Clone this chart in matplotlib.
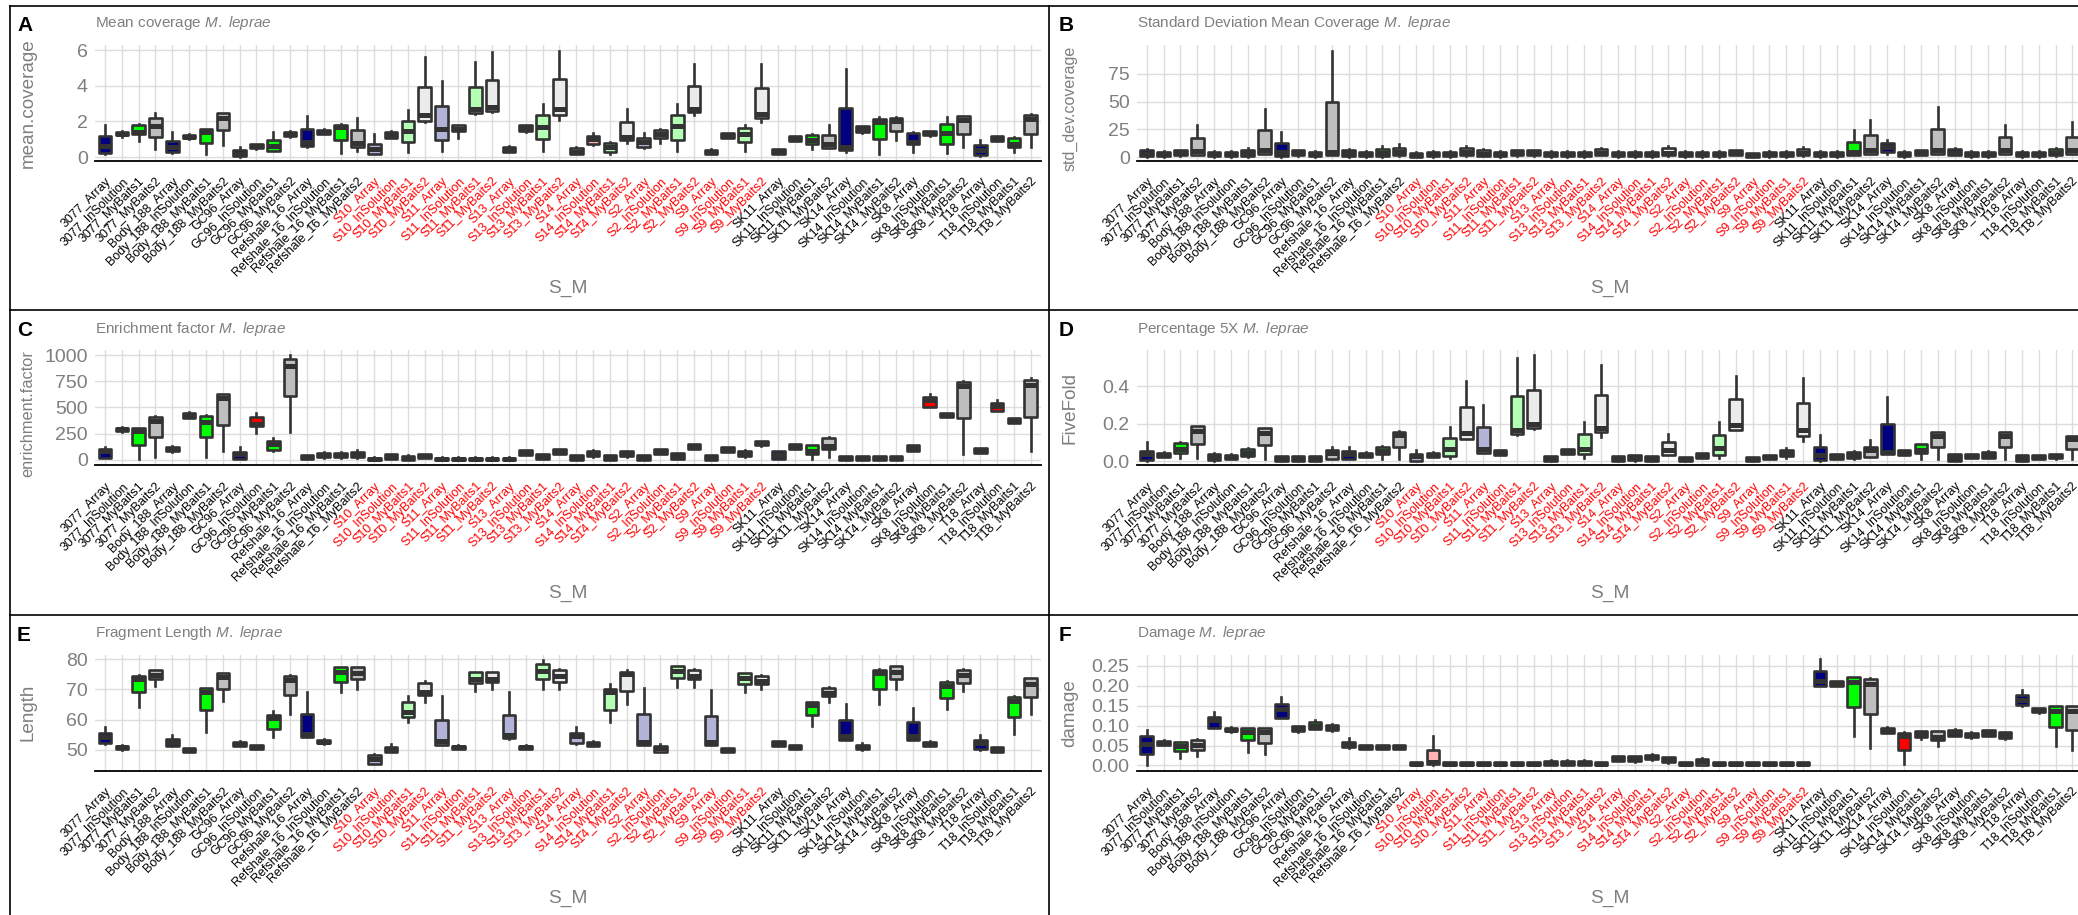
import matplotlib
matplotlib.use("Agg")
import matplotlib.pyplot as plt
import matplotlib.colors as mcolors
from matplotlib.lines import Line2D

plt.rcParams["font.family"] = "Liberation Sans"
plt.rcParams["mathtext.fontset"] = "custom"
plt.rcParams["mathtext.rm"] = "Liberation Sans"
plt.rcParams["mathtext.it"] = "Liberation Sans:italic"

samples = ["3077", "Body_188", "GC96", "Refshale_16", "S10", "S11", "S13",
           "S14", "S2", "S9", "SK11", "SK14", "SK8", "T18"]
red_samples = ["S10", "S11", "S13", "S14", "S2", "S9"]
methods = ["Array", "InSolution", "MyBaits1", "MyBaits2"]
categories = [s + "_" + m for s in samples for m in methods]

# (whisker low, q1, median, q3, whisker high) per category
mean_coverage = [
    (0.15, 0.24, 0.62, 1.2, 1.78), (1.15, 1.22, 1.32, 1.42, 1.48), (0.9, 1.28, 1.42, 1.78, 1.85), (0.45, 1.12, 1.72, 2.2, 2.5),
    (0.25, 0.3, 0.55, 0.92, 1.4), (1.0, 1.05, 1.12, 1.22, 1.27), (0.2, 0.8, 1.42, 1.55, 1.6), (0.7, 1.5, 2.2, 2.45, 2.5),
    (0.0, 0.05, 0.2, 0.38, 0.55), (0.47, 0.5, 0.6, 0.72, 0.76), (0.35, 0.37, 0.65, 0.95, 1.42), (1.15, 1.2, 1.28, 1.4, 1.45),
    (0.55, 0.6, 0.85, 1.55, 2.33), (1.27, 1.3, 1.4, 1.5, 1.55), (0.25, 0.95, 1.68, 1.8, 1.85), (0.33, 0.57, 0.82, 1.52, 2.2),
    (0.15, 0.17, 0.45, 0.75, 1.3), (1.05, 1.1, 1.25, 1.4, 1.45), (0.28, 0.84, 1.44, 2.05, 2.66), (1.95, 2.02, 2.35, 3.95, 5.6),
    (0.34, 0.94, 1.55, 2.85, 4.28), (1.1, 1.45, 1.6, 1.78, 1.8), (2.4, 2.45, 2.7, 3.95, 5.35), (2.55, 2.6, 2.8, 4.3, 5.9),
    (0.27, 0.3, 0.45, 0.58, 0.6), (1.4, 1.46, 1.62, 1.78, 1.8), (0.34, 1.03, 1.69, 2.35, 2.95), (2.1, 2.35, 2.72, 4.35, 5.97),
    (0.15, 0.17, 0.3, 0.5, 0.55), (0.7, 0.72, 1.0, 1.18, 1.37), (0.18, 0.3, 0.55, 0.82, 0.85), (0.79, 0.94, 1.13, 1.97, 2.72),
    (0.5, 0.55, 0.85, 1.08, 1.37), (0.79, 1.09, 1.3, 1.54, 1.56), (0.34, 0.94, 1.73, 2.35, 2.95), (2.38, 2.53, 2.72, 4.0, 5.2),
    (0.15, 0.17, 0.28, 0.41, 0.43), (1.07, 1.09, 1.2, 1.35, 1.37), (0.34, 0.84, 1.31, 1.65, 1.78), (1.97, 2.21, 2.44, 3.85, 5.2),
    (0.19, 0.2, 0.33, 0.47, 0.48), (0.9, 0.92, 1.03, 1.16, 1.18), (0.47, 0.71, 0.98, 1.26, 1.3), (0.51, 0.53, 0.75, 1.22, 1.78),
    (0.28, 0.38, 0.56, 2.78, 4.91), (1.35, 1.41, 1.55, 1.73, 1.75), (0.18, 1.0, 1.95, 2.15, 2.25), (0.95, 1.45, 2.0, 2.2, 2.25),
    (0.28, 0.71, 0.86, 1.37, 1.4), (1.2, 1.22, 1.33, 1.44, 1.46), (0.22, 0.71, 1.35, 1.84, 2.25), (0.56, 1.31, 2.1, 2.29, 2.32),
    (0.09, 0.1, 0.38, 0.66, 0.94), (0.9, 0.92, 1.03, 1.16, 1.18), (0.28, 0.56, 0.71, 1.09, 1.12), (0.56, 1.31, 2.16, 2.35, 2.4),
]

std_dev_coverage = [
    (0.5, 1, 3, 6, 7), (0.5, 1, 2.5, 5, 5.5), (1, 1.5, 3.5, 6, 6.5), (1.5, 2, 5.5, 17.5, 29),
    (0.5, 0.8, 2.5, 5, 5.5), (0.5, 0.8, 2.5, 5, 5.5), (0.5, 1, 3.5, 6.5, 8), (2.5, 3, 6.5, 24, 43),
    (0.5, 0.8, 5, 13, 22.5), (1, 1.5, 3.5, 6, 6.5), (0.5, 0.8, 2.5, 5, 5.5), (1.5, 2, 5, 50, 96),
    (0.5, 1, 3.5, 6.5, 7.5), (0.5, 0.8, 2.5, 5, 5.5), (0.5, 1, 4, 7.5, 10), (1, 1.5, 4.5, 8, 12),
    (0, 0.2, 1.5, 4, 4.5), (0.5, 0.8, 2.5, 5, 5.5), (0.5, 0.8, 2.5, 5, 5.5), (1, 1.5, 4.5, 8.5, 10),
    (1, 1.2, 3, 6.5, 7.5), (0.5, 0.8, 2.5, 5, 5.5), (1, 1.5, 3.5, 6, 6.5), (1, 1.5, 3.5, 6, 6.5),
    (0.5, 0.8, 2.5, 5, 5.5), (0.5, 0.8, 2.5, 5, 5.5), (0.5, 0.8, 2.5, 5, 5.5), (1.5, 2, 4, 7, 8),
    (0.5, 0.8, 2.5, 5, 5.5), (0.5, 0.8, 2.5, 5, 5.5), (0.5, 0.8, 2.5, 5, 5.5), (1, 1.5, 4, 8, 10),
    (0.5, 0.8, 2.5, 5, 5.5), (0.5, 0.8, 2.5, 5, 5.5), (0.5, 0.8, 2.5, 5, 5.5), (1.5, 2, 4, 6, 6.5),
    (0, 0.2, 1.5, 3.5, 4), (0.5, 0.8, 2.5, 5, 5.5), (0.5, 0.8, 2.5, 5, 5.5), (1, 2, 4, 7, 9),
    (0.5, 0.8, 2.5, 5, 5.5), (0.5, 0.8, 2.5, 5, 5.5), (1.5, 2, 5, 14, 24.5), (2.5, 3, 6, 20, 33.5),
    (3, 5, 9, 12.5, 15), (0.5, 0.8, 2.5, 5, 5.5), (1.5, 2, 3.5, 6, 6.5), (2.5, 3, 6, 25.5, 45.5),
    (1.5, 2, 4, 7, 8), (0.5, 0.8, 2.5, 5, 5.5), (0.5, 0.8, 2.5, 5, 5.5), (2.5, 3, 6, 18, 29),
    (0.5, 0.8, 2.5, 5, 5.5), (0.5, 0.8, 2.5, 5, 5.5), (1, 1.5, 4, 7, 8.5), (2.5, 3, 6, 18.5, 32),
]

enrichment_factor = [
    (15, 20, 80, 100, 127), (268, 272, 290, 308, 312), (5, 140, 275, 300, 305), (30, 215, 375, 410, 415),
    (78, 82, 105, 125, 128), (395, 400, 425, 448, 452), (25, 215, 365, 420, 425), (80, 335, 590, 625, 630),
    (5, 10, 57, 78, 120), (255, 320, 340, 410, 445), (86, 97, 150, 175, 213), (270, 605, 895, 965, 1000),
    (5, 8, 30, 45, 50), (22, 25, 50, 68, 72), (22, 25, 50, 68, 72), (20, 28, 55, 78, 90),
    (0, 2, 10, 22, 25), (8, 10, 35, 55, 58), (0, 2, 20, 40, 42), (14, 16, 40, 55, 58),
    (0, 2, 10, 22, 25), (0, 2, 10, 22, 25), (0, 2, 10, 22, 25), (0, 2, 10, 22, 25),
    (0, 2, 10, 22, 25), (46, 48, 75, 95, 97), (4, 6, 30, 55, 57), (55, 57, 85, 106, 108),
    (0, 2, 25, 46, 48), (30, 32, 60, 84, 95), (0, 2, 25, 46, 48), (30, 32, 60, 84, 86),
    (0, 2, 25, 46, 48), (55, 57, 85, 106, 108), (4, 6, 40, 68, 70), (100, 102, 130, 150, 152),
    (0, 2, 25, 46, 48), (77, 79, 105, 125, 127), (25, 32, 55, 84, 95), (135, 137, 160, 182, 184),
    (4, 6, 45, 84, 86), (100, 102, 130, 150, 152), (5, 55, 80, 140, 145), (25, 100, 135, 210, 215),
    (0, 2, 18, 35, 38), (0, 2, 18, 35, 38), (0, 2, 18, 35, 38), (0, 2, 18, 35, 38),
    (87, 89, 115, 141, 143), (500, 505, 570, 600, 630), (404, 406, 430, 449, 451), (55, 400, 700, 745, 750),
    (62, 64, 90, 115, 117), (465, 470, 510, 545, 570), (347, 349, 375, 395, 397), (80, 405, 715, 760, 780),
]

five_fold = [
    (0.003, 0.005, 0.038, 0.056, 0.1), (0.02, 0.022, 0.033, 0.045, 0.047), (0.015, 0.046, 0.064, 0.095, 0.1), (0.015, 0.092, 0.163, 0.188, 0.19),
    (0.003, 0.005, 0.02, 0.039, 0.046), (0.011, 0.012, 0.023, 0.034, 0.036), (0.021, 0.028, 0.045, 0.064, 0.069), (0.012, 0.087, 0.152, 0.175, 0.177),
    (0.0, 0.002, 0.012, 0.025, 0.026), (0.0, 0.002, 0.012, 0.025, 0.026), (0.0, 0.002, 0.012, 0.025, 0.026), (0.011, 0.012, 0.042, 0.06, 0.078),
    (0.011, 0.012, 0.039, 0.055, 0.073), (0.02, 0.022, 0.033, 0.045, 0.047), (0.012, 0.039, 0.055, 0.078, 0.08), (0.012, 0.073, 0.14, 0.158, 0.16),
    (0.0, 0.002, 0.028, 0.039, 0.057), (0.02, 0.022, 0.033, 0.045, 0.047), (0.016, 0.028, 0.064, 0.126, 0.184), (0.118, 0.119, 0.152, 0.29, 0.428),
    (0.045, 0.046, 0.064, 0.18, 0.299), (0.033, 0.034, 0.047, 0.06, 0.061), (0.14, 0.143, 0.165, 0.35, 0.552), (0.172, 0.175, 0.198, 0.379, 0.565),
    (0.0, 0.002, 0.012, 0.025, 0.026), (0.036, 0.037, 0.05, 0.065, 0.066), (0.014, 0.039, 0.064, 0.143, 0.21), (0.131, 0.154, 0.179, 0.354, 0.515),
    (0.0, 0.002, 0.014, 0.028, 0.029), (0.003, 0.004, 0.02, 0.034, 0.035), (0.0, 0.002, 0.014, 0.028, 0.029), (0.033, 0.034, 0.06, 0.104, 0.145),
    (0.0, 0.001, 0.01, 0.021, 0.022), (0.015, 0.016, 0.03, 0.042, 0.043), (0.014, 0.034, 0.069, 0.14, 0.21), (0.165, 0.166, 0.193, 0.33, 0.453),
    (0.0, 0.001, 0.01, 0.021, 0.022), (0.01, 0.011, 0.022, 0.034, 0.035), (0.016, 0.025, 0.042, 0.06, 0.069), (0.11, 0.136, 0.166, 0.308, 0.446),
    (0.003, 0.005, 0.03, 0.078, 0.14), (0.01, 0.011, 0.025, 0.039, 0.04), (0.011, 0.016, 0.035, 0.051, 0.052), (0.02, 0.021, 0.06, 0.078, 0.113),
    (0.036, 0.037, 0.051, 0.198, 0.343), (0.033, 0.034, 0.047, 0.06, 0.061), (0.011, 0.046, 0.06, 0.092, 0.093), (0.011, 0.074, 0.135, 0.154, 0.155),
    (0.0, 0.002, 0.02, 0.039, 0.04), (0.015, 0.016, 0.028, 0.039, 0.04), (0.015, 0.016, 0.035, 0.051, 0.052), (0.011, 0.078, 0.135, 0.154, 0.155),
    (0.0, 0.002, 0.015, 0.03, 0.031), (0.01, 0.011, 0.022, 0.034, 0.035), (0.013, 0.014, 0.027, 0.039, 0.04), (0.011, 0.064, 0.117, 0.135, 0.136),
]

fragment_length = [
    (52, 52.2, 54.2, 55.5, 57.6), (50, 50.1, 50.8, 51.3, 51.4), (64, 69, 73.5, 74.5, 74.7), (71, 73.5, 74.7, 76.3, 76.5),
    (51.2, 51.3, 52.5, 53.6, 54.8), (49.2, 49.3, 50, 50.6, 50.7), (56, 63, 69, 70.3, 70.5), (66, 70.1, 74.2, 75.3, 75.5),
    (51.2, 51.3, 52, 52.7, 52.8), (50.1, 50.2, 50.9, 51.6, 51.7), (54.2, 57, 60.5, 61.5, 62.8), (62, 68, 73.1, 74.6, 74.8),
    (54.2, 54.3, 55.3, 62, 69), (52, 52.1, 52.7, 53.3, 53.4), (69, 72.6, 75.7, 77.3, 77.5), (70.1, 73.4, 75.3, 77.3, 77.5),
    (45.1, 45.2, 47, 48.3, 48.7), (49.2, 49.3, 50.2, 51, 51.8), (59.2, 61, 62.5, 65.7, 67.9), (65.9, 68.1, 69.2, 72, 72.8),
    (51.4, 51.5, 52.8, 59.8, 67.9), (50.1, 50.2, 50.8, 51.3, 51.4), (69.4, 72, 73.4, 75.7, 75.9), (70.1, 72.3, 73.4, 75.7, 75.9),
    (53.7, 53.8, 55, 61.4, 69), (50.1, 50.2, 50.8, 51.3, 51.4), (70.1, 73.4, 76, 78.4, 79.8), (70.1, 72.6, 74.6, 76.4, 76.6),
    (52, 52.1, 54.4, 55.6, 57.6), (51.1, 51.2, 52, 52.7, 52.8), (59.2, 63.3, 69, 70.1, 71.7), (65.3, 69.6, 75, 75.7, 76.4),
    (51.4, 51.5, 52.6, 61.7, 70.6), (49.2, 49.3, 50.4, 51.3, 51.8), (70.9, 73.9, 76.1, 77.6, 77.9), (70.9, 73.4, 74.6, 76.4, 76.6),
    (51.4, 51.5, 52.6, 61.1, 69.8), (49.2, 49.3, 50, 50.6, 50.7), (69.2, 71.8, 73.9, 75.3, 75.5), (70.1, 71.8, 72.8, 74.6, 74.8),
    (51.2, 51.3, 52, 52.8, 52.9), (50.1, 50.2, 50.9, 51.6, 51.7), (57.9, 61.4, 64.8, 65.7, 65.9), (65.9, 67.9, 68.7, 70.6, 70.8),
    (53.1, 53.2, 54.5, 59.8, 65), (50, 50.1, 50.8, 51.6, 52.2), (65.3, 70.1, 75.3, 76.4, 76.6), (70.1, 73.4, 75.9, 77.6, 77.8),
    (53.1, 53.2, 54.6, 59.2, 63.7), (51.2, 51.3, 52, 52.7, 52.8), (63.4, 67.2, 71.2, 72.6, 72.8), (69.4, 72, 74.8, 76.4, 76.6),
    (50, 50.1, 52.3, 53.3, 54.8), (49.2, 49.3, 50, 50.8, 50.9), (55.3, 60.9, 66.1, 67.6, 67.8), (62, 67.6, 71.7, 73.7, 73.9),
]

damage = [
    (0.002, 0.03, 0.055, 0.075, 0.09), (0.051, 0.052, 0.057, 0.062, 0.063), (0.019, 0.036, 0.05, 0.058, 0.06), (0.023, 0.038, 0.052, 0.063, 0.067),
    (0.093, 0.094, 0.113, 0.122, 0.134), (0.085, 0.086, 0.09, 0.095, 0.096), (0.034, 0.063, 0.084, 0.094, 0.095), (0.029, 0.057, 0.084, 0.094, 0.095),
    (0.119, 0.12, 0.141, 0.153, 0.172), (0.085, 0.086, 0.092, 0.098, 0.099), (0.091, 0.092, 0.1, 0.108, 0.115), (0.087, 0.088, 0.095, 0.102, 0.103),
    (0.045, 0.046, 0.053, 0.06, 0.068), (0.041, 0.042, 0.047, 0.051, 0.052), (0.041, 0.042, 0.047, 0.051, 0.052), (0.041, 0.042, 0.047, 0.051, 0.052),
    (0.0, 0.001, 0.004, 0.008, 0.009), (0.002, 0.003, 0.008, 0.04, 0.074), (0.0, 0.001, 0.004, 0.008, 0.009), (0.0, 0.001, 0.004, 0.008, 0.009),
    (0.0, 0.001, 0.004, 0.008, 0.009), (0.0, 0.001, 0.004, 0.008, 0.009), (0.0, 0.001, 0.004, 0.008, 0.009), (0.0, 0.001, 0.004, 0.008, 0.009),
    (0.001, 0.002, 0.007, 0.012, 0.013), (0.001, 0.002, 0.007, 0.012, 0.013), (0.001, 0.002, 0.007, 0.012, 0.013), (0.0, 0.001, 0.004, 0.008, 0.009),
    (0.01, 0.011, 0.018, 0.023, 0.024), (0.008, 0.011, 0.018, 0.023, 0.024), (0.014, 0.015, 0.021, 0.027, 0.028), (0.007, 0.008, 0.015, 0.021, 0.022),
    (0.0, 0.001, 0.004, 0.008, 0.009), (0.001, 0.002, 0.01, 0.015, 0.018), (0.0, 0.001, 0.004, 0.008, 0.009), (0.0, 0.001, 0.004, 0.008, 0.009),
    (0.0, 0.001, 0.004, 0.008, 0.009), (0.0, 0.001, 0.004, 0.008, 0.009), (0.0, 0.001, 0.004, 0.008, 0.009), (0.0, 0.001, 0.004, 0.008, 0.009),
    (0.199, 0.2, 0.212, 0.236, 0.267), (0.199, 0.2, 0.205, 0.211, 0.212), (0.075, 0.147, 0.21, 0.222, 0.223), (0.044, 0.13, 0.205, 0.218, 0.219),
    (0.081, 0.082, 0.088, 0.095, 0.096), (0.004, 0.038, 0.074, 0.082, 0.083), (0.066, 0.071, 0.078, 0.086, 0.087), (0.049, 0.063, 0.071, 0.086, 0.087),
    (0.074, 0.075, 0.083, 0.09, 0.091), (0.07, 0.071, 0.077, 0.082, 0.083), (0.074, 0.075, 0.082, 0.088, 0.089), (0.066, 0.069, 0.077, 0.084, 0.085),
    (0.15, 0.151, 0.165, 0.176, 0.189), (0.132, 0.133, 0.138, 0.143, 0.144), (0.05, 0.096, 0.136, 0.148, 0.149), (0.038, 0.09, 0.136, 0.148, 0.149),
]

method_fill = {"Array": "#000080", "InSolution": "#FF0000", "MyBaits1": "#00FF00", "MyBaits2": "#BEBEBE"}


def light(c, a=0.3):
    r, g, b = mcolors.to_rgb(c)
    return (1 - a + a * r, 1 - a + a * g, 1 - a + a * b)


fills = []
label_colors = []
for s in samples:
    for m in methods:
        if s in red_samples:
            fills.append(light(method_fill[m]))
            label_colors.append("#FF0000")
        else:
            fills.append(method_fill[m])
            label_colors.append("black")

# letter, title, y title, data, ylim, y ticks, tick format, y title size, y title shift (px)
panels = [
    ("A", "Mean coverage", "mean.coverage", mean_coverage, (-0.186, 6.28), [0, 2, 4, 6], "{:g}", 13.6, 0),
    ("B", "Standard Deviation Mean Coverage", "std_dev.coverage", std_dev_coverage, (-3.1, 101), [0, 25, 50, 75], "{:g}", 11.5, 6),
    ("C", "Enrichment factor", "enrichment.factor", enrichment_factor, (-54, 1048), [0, 250, 500, 750, 1000], "{:g}", 11.8, 6),
    ("D", "Percentage 5X", "FiveFold", five_fold, (-0.0235, 0.594), [0.0, 0.2, 0.4], "{:.1f}", 13.6, 0),
    ("E", "Fragment Length", "Length", fragment_length, (43.1, 81.4), [50, 60, 70, 80], "{:g}", 13.6, 0),
    ("F", "Damage", "damage", damage, (-0.0126, 0.277), [0.0, 0.05, 0.10, 0.15, 0.20, 0.25], "{:.2f}", 13.6, 0),
]

W, H = 2078, 915
fig = plt.figure(figsize=(W / 100, H / 100), dpi=100)
gray = "#7F7F7F"
edge = "#333333"

col_left = [94.9, 1136.6]
col_letter = [17, 1059]
col_ylab = [28, 1070]
ax_w = 945.9
ax_h = 115.5

for k, (letter, title, ylab, data, ylim, yticks, fmt, ylab_size, ylab_shift) in enumerate(panels):
    r, c = k // 2, k % 2
    left = col_left[c]
    top = 45 + 305 * r
    ax = fig.add_axes([left / W, 1 - (top + ax_h) / H, ax_w / W, ax_h / H])

    stats = [dict(whislo=v[0], q1=v[1], med=v[2], q3=v[3], whishi=v[4], fliers=[]) for v in data]
    bp = ax.bxp(stats, positions=range(len(categories)), widths=0.75, patch_artist=True,
                showfliers=False, showcaps=False,
                boxprops=dict(linewidth=1.9, edgecolor=edge, joinstyle="round"),
                whiskerprops=dict(linewidth=1.9, color=edge),
                medianprops=dict(linewidth=3.6, color=edge, solid_capstyle="butt"))
    for patch, fc in zip(bp["boxes"], fills):
        patch.set_facecolor(fc)
        patch.set_zorder(3)
    for ln in bp["whiskers"]:
        ln.set_zorder(2)
    for ln in bp["medians"]:
        ln.set_zorder(4)

    ax.set_xlim(-0.6, len(categories) - 0.4)
    ax.set_ylim(*ylim)
    ax.set_yticks(yticks)
    ax.set_yticklabels([fmt.format(t) for t in yticks])
    ax.set_xticks(range(len(categories)))
    ax.set_xticklabels(categories)
    ax.grid(True, color="#DDDDDD", linewidth=1.0, zorder=0)
    ax.set_axisbelow(True)
    for side in ["top", "right", "left"]:
        ax.spines[side].set_visible(False)
    ax.spines["bottom"].set_color("black")
    ax.spines["bottom"].set_linewidth(1.3)
    ax.tick_params(axis="both", length=0)
    ax.tick_params(axis="y", labelsize=14, labelcolor=gray, pad=5)
    ax.tick_params(axis="x", labelsize=9, pad=10.5)
    for lbl, col in zip(ax.get_xticklabels(), label_colors):
        lbl.set_rotation(45)
        lbl.set_ha("right")
        lbl.set_va("top")
        lbl.set_rotation_mode("anchor")
        lbl.set_color(col)

    fig.text(left / W, 1 - (23.5 + 305 * r) / H, title + r" $\it{M.\ leprae}$",
             fontsize=11, color=gray, ha="left", va="center")
    fig.text(col_letter[c] / W, 1 - (25.5 + 305 * r) / H, letter,
             fontsize=15, fontweight="bold", color="black", ha="left", va="center")
    fig.text(col_ylab[c] / W, 1 - (top + ax_h / 2 + ylab_shift) / H, ylab, rotation=90,
             fontsize=ylab_size, color=gray, ha="center", va="center")
    fig.text((left + ax_w / 2) / W, 1 - (288 + 305 * r) / H, "S_M",
             fontsize=13.8, color=gray, ha="center", va="center")

# panel frames
for y in [6, 310, 615]:
    fig.add_artist(Line2D([10 / W, 1], [1 - y / H, 1 - y / H], color="black", linewidth=1.2))
for x in [10, 1049]:
    fig.add_artist(Line2D([x / W, x / W], [1 - 6 / H, 0], color="black", linewidth=1.2))

fig.savefig("out.png", dpi=100)
